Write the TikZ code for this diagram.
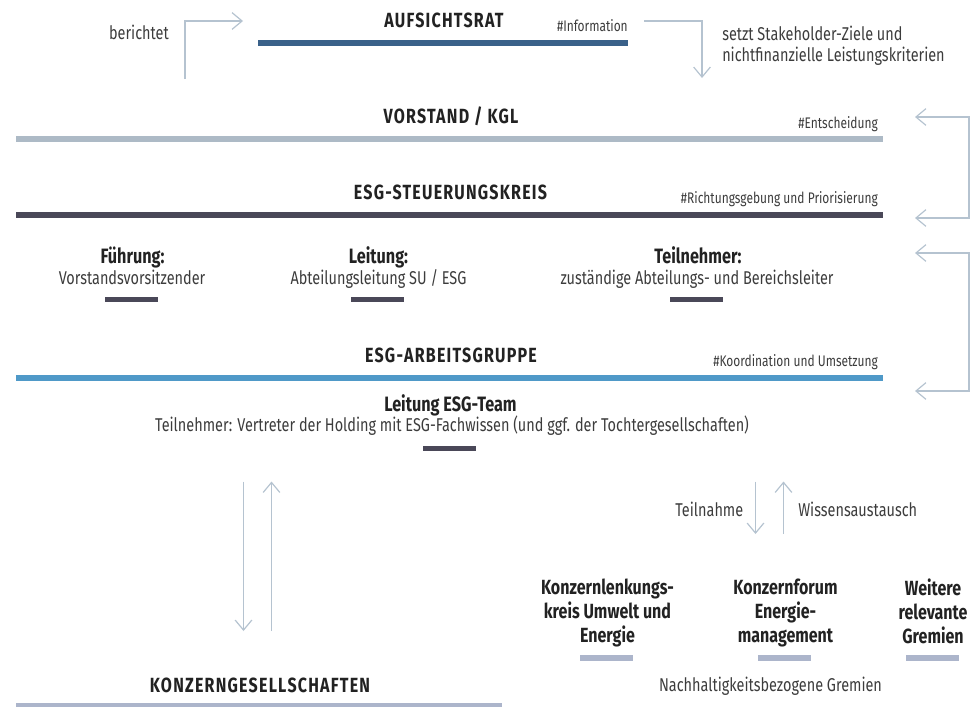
\documentclass[tikz,border=0pt]{standalone}
\usepackage{fontspec}
\setmainfont[FakeStretch=0.78]{Fira Sans}
\newfontfamily\reg[FakeStretch=0.78]{Fira Sans}
\newfontfamily\hdfont[FakeStretch=0.78,LetterSpace=6]{Fira Sans}
\usetikzlibrary{arrows.meta}
\definecolor{arrowc}{HTML}{B5C3D0}
\definecolor{barAR}{HTML}{3A6189}
\definecolor{barVK}{HTML}{ADBAC6}
\definecolor{barSK}{HTML}{4A4858}
\definecolor{barAG}{HTML}{4F99C8}
\definecolor{barKG}{HTML}{ACB5CB}
\definecolor{dark}{HTML}{222222}
\definecolor{txt}{HTML}{3C3C3C}
\tikzset{
  lab/.style={inner sep=0pt, anchor=base, font=\reg\fontsize{13.9}{16}\selectfont, text=txt},
  hd/.style={inner sep=0pt, anchor=base, font=\hdfont\bfseries\fontsize{15.4}{18}\selectfont, text=dark},
  tag/.style={inner sep=0pt, anchor=base east, font=\reg\fontsize{11.5}{13}\selectfont, text=txt},
  sub/.style={inner sep=0pt, anchor=base, font=\reg\bfseries\fontsize{15.6}{18}\selectfont, text=dark},
  grem/.style={inner sep=0pt, anchor=north, align=center, font=\reg\bfseries\fontsize{15.4}{18}\selectfont, text=dark},
  conn/.style={draw=arrowc, line width=0.9pt, -{Straight Barb[length=7.5pt,width=12.5pt]}},
  bracket/.style={draw=arrowc, line width=0.9pt, {Straight Barb[length=7.5pt,width=12.5pt]}-{Straight Barb[length=7.5pt,width=12.5pt]}}
}
\begin{document}
\begin{tikzpicture}[x=0.75pt,y=-0.75pt]
\useasboundingbox (0,0) rectangle (971,707);

% ---- Aufsichtsrat
\node[hd] (ar) at (444,27) {AUFSICHTSRAT};
\fill[barAR] (258,40) rectangle (628,46);
\node[tag] (tagInfo) at (628,31.5) {\#Information};
\node[lab, anchor=base east] (ber) at (169,39) {berichtet};
\coordinate (b1) at (185,79);
\coordinate (b2) at (243,21);
\draw[conn] (b1) |- (b2);
\coordinate (i1) at (644,21);
\coordinate (i2) at (702,78);
\draw[conn] (i1) -| (i2);
\node[lab, anchor=base west] (setzt1) at (722,40) {setzt Stakeholder-Ziele und};
\node[lab, anchor=base west] (setzt2) at (722,61) {nichtfinanzielle Leistungskriterien};

% ---- Vorstand
\node[hd] (vk) at (451,123.5) {VORSTAND / KGL};
\fill[barVK] (16,136) rectangle (883,142);
\node[tag] (tagEnt) at (878,128) {\#Entscheidung};

% ---- Steuerungskreis
\node[hd] (sk) at (450.5,199) {ESG-STEUERUNGSKREIS};
\fill[barSK] (16,211.5) rectangle (883,217.5);
\node[tag] (tagRich) at (878,203) {\#Richtungsgebung und Priorisierung};

\coordinate (r1) at (915,117);
\coordinate (r2) at (915,218);
\draw[bracket] (r1) -- (969,117) -- (969,218) -- (r2);

\node[sub] (fu) at (132.5,263) {Führung:};
\node[lab] (fu2) at (132,284) {Vorstandsvorsitzender};
\fill[barSK] (105,297) rectangle (157.5,302);
\node[sub] (le) at (378.5,263) {Leitung:};
\node[lab] (le2) at (378.5,284) {Abteilungsleitung SU / ESG};
\fill[barSK] (351,297) rectangle (404,302);
\node[sub] (te) at (698,263) {Teilnehmer:};
\node[lab] (te2) at (697,284) {zuständige Abteilungs- und Bereichsleiter};
\fill[barSK] (670,297) rectangle (722.5,302);

\coordinate (r3) at (915,253);
\coordinate (r4) at (915,391);
\draw[bracket] (r3) -- (969,253) -- (969,391) -- (r4);

% ---- Arbeitsgruppe
\node[hd] (ag) at (451,362.5) {ESG-ARBEITSGRUPPE};
\fill[barAG] (16,374.5) rectangle (883,380.5);
\node[tag] (tagKoo) at (878,366.5) {\#Koordination und Umsetzung};
\node[sub] (lt) at (450.5,411) {Leitung ESG-Team};
\node[lab] (lt2) at (452,431) {Teilnehmer: Vertreter der Holding mit ESG-Fachwissen (und ggf. der Tochtergesellschaften)};
\fill[barSK] (423,445.5) rectangle (476,450.5);

% ---- vertical arrows to Konzerngesellschaften
\coordinate (d1) at (243.5,481.5);
\coordinate (d2) at (243.5,631);
\draw[conn] (d1) -- (d2);
\coordinate (u1) at (271.5,631);
\coordinate (u2) at (271.5,481.5);
\draw[conn] (u1) -- (u2);

\node[hd] (kg) at (260,692) {KONZERNGESELLSCHAFTEN};
\fill[barKG] (16,703) rectangle (502,707);

% ---- Gremien
\coordinate (t1) at (755.5,481.5);
\coordinate (t2) at (755.5,534);
\draw[conn] (t1) -- (t2);
\coordinate (w1) at (783.5,534);
\coordinate (w2) at (783.5,481.5);
\draw[conn] (w1) -- (w2);
\node[lab, anchor=base east] (tn) at (743.5,516.5) {Teilnahme};
\node[lab, anchor=base west] (wa) at (798,516.5) {Wissensaustausch};

\node[grem] (g1) at (607.5,579) {Konzernlenkungs-\\kreis Umwelt und\\Energie};
\fill[barKG] (580,655) rectangle (633,661);
\node[grem] (g2) at (785.5,579) {Konzernforum\\Energie-\\management};
\fill[barKG] (758,655) rectangle (811,661);
\node[grem] (g3) at (933,579) {Weitere\\relevante\\Gremien};
\fill[barKG] (906,655) rectangle (959,661);
\node[lab] (ng) at (770.5,691.5) {Nachhaltigkeitsbezogene Gremien};
\end{tikzpicture}
\end{document}
